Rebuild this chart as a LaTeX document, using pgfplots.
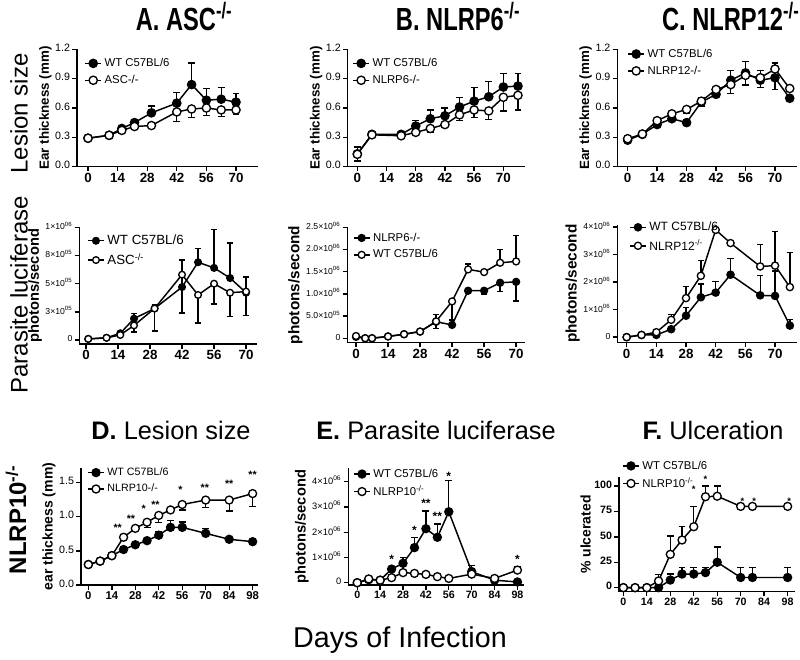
\documentclass[border=0pt]{standalone}
\usepackage{fontspec}
\setmainfont{Liberation Sans}
\usepackage{graphicx}
\usepackage{pgfplots}
\pgfplotsset{compat=1.18}

\newcommand{\sci}[2]{#1×10\textsuperscript{#2}}
\newcommand{\ko}{\textsuperscript{-/-}}

\pgfplotsset{
  gp/.style={
    scale only axis, clip=false,
    axis x line*=bottom, axis y line*=left,
    axis line style={line width=1.1pt},
    tick align=outside, major tick length=3.5pt,
    every tick/.style={black, line width=1pt},
    xtick={0,14,28,42,56,70},
    typeset ticklabels with strut,
    xticklabel style={font=\bfseries\fontsize{10}{10}\selectfont, inner sep=1pt},
    yticklabel style={font=\fontsize{8}{8}\selectfont, inner sep=1.5pt},
    /pgf/number format/assume math mode=true,
    legend cell align=left,
    legend style={draw=none, fill=none, anchor=north west, inner sep=0pt,
      row sep=1pt, font=\fontsize{8.5}{9}\selectfont},
    legend image code/.code={\draw[mark repeat=2,mark phase=2,##1] plot coordinates {(0pt,0pt) (6pt,0pt) (12pt,0pt)};},
    ylabel style={font=\bfseries\fontsize{10}{10}\selectfont, inner sep=1pt},
    every axis plot/.append style={line width=1.1pt},
    error bars/y dir=both, error bars/y explicit,
    error bars/error bar style={line width=1pt, black},
    error bars/error mark options={rotate=90, line width=1pt, black, mark size=2.6pt},
  },
  wt/.style={black, mark=*, mark size=#1, mark options={fill=black, line width=1pt}},
  wt/.default=3.1pt,
  ko/.style={black, mark=*, mark size=#1, mark options={fill=white, line width=1pt}},
  ko/.default=3.1pt,
  /pgfplots/table/tab/.style={x=d, y=v, y error plus=p, y error minus=m, row sep=\\},
}

\begin{document}
\begin{tikzpicture}
\path[use as bounding box] (0,0) rectangle (600pt,495pt);

% ---------- titles and row labels
\node[anchor=base] at (138pt,471.75pt) {\scalebox{0.74}[1]{\fontsize{24}{24}\selectfont\bfseries A. ASC\ko}};
\node[anchor=base] at (343.5pt,471.75pt) {\scalebox{0.74}[1]{\fontsize{24}{24}\selectfont\bfseries B. NLRP6\ko}};
\node[anchor=base] at (548pt,471.75pt) {\scalebox{0.74}[1]{\fontsize{24}{24}\selectfont\bfseries C. NLRP12\ko}};
\node[rotate=90, font=\fontsize{18}{18}\selectfont] at (14.25pt,410pt) {Lesion size};
\node[rotate=90, font=\fontsize{18}{18}\selectfont] at (14.25pt,274pt) {Parasite luciferase};
\node[rotate=90, font=\bfseries\fontsize{18}{18}\selectfont] at (12pt,105pt) {NLRP10\ko};
\node[anchor=base, font=\fontsize{19}{19}\selectfont] at (128.25pt,165pt) {\textbf{D.} Lesion size};
\node[anchor=base, font=\fontsize{19}{19}\selectfont] at (327pt,165pt) {\textbf{E.} Parasite luciferase};
\node[anchor=base, font=\fontsize{19}{19}\selectfont] at (534.75pt,165pt) {\textbf{F.} Ulceration};
\node[font=\fontsize{21.5}{22}\selectfont] at (300pt,15pt) {Days of Infection};

% ---------- A top: ASC lesion
\begin{axis}[gp, at={(57.75pt,370.125pt)}, anchor=south west,
  width=135.75pt, height=87.75pt,
  xmin=-5.2, xmax=80.4, ymin=0, ymax=1.2,
  ytick={0,0.3,0.6,0.9,1.2}, yticklabels={0.0,0.3,0.6,0.9,1.2},
  ylabel={Ear thickness (mm)},
  legend style={at={(0.04,0.95)}}]
\addplot[wt] table[tab]{d v p m\\ 0 0.29 0 0\\ 10 0.32 0 0\\ 16 0.39 0.02 0\\ 22 0.45 0.02 0\\ 30 0.55 0.07 0\\ 42 0.65 0.11 0\\ 49 0.84 0.22 0\\ 56 0.68 0.12 0\\ 63 0.69 0.12 0\\ 70 0.66 0.09 0\\};
\addlegendentry{WT C57BL/6}
\addplot[ko] table[tab]{d v p m\\ 0 0.29 0 0\\ 10 0.32 0 0\\ 16 0.37 0 0.02\\ 22 0.41 0 0.02\\ 30 0.42 0 0.02\\ 42 0.56 0 0.10\\ 49 0.59 0 0.09\\ 56 0.60 0 0.08\\ 63 0.58 0 0.07\\ 70 0.58 0 0.05\\};
\addlegendentry{ASC-/-}
\end{axis}

% ---------- B top: NLRP6 lesion
\begin{axis}[gp, at={(260.8pt,370.125pt)}, anchor=south west,
  width=133pt, height=87.75pt,
  xmin=-4.6, xmax=80.4, ymin=0, ymax=1.2,
  ytick={0,0.3,0.6,0.9,1.2}, yticklabels={0.0,0.3,0.6,0.9,1.2},
  ylabel={Ear thickness (mm)},
  legend style={at={(0.025,0.95)}}]
\addplot[wt] table[tab]{d v p m\\ 0 0.13 0.07 0\\ 7 0.33 0 0\\ 21 0.33 0.02 0\\ 28 0.415 0.06 0\\ 35 0.49 0.09 0\\ 42 0.52 0.08 0\\ 49 0.61 0.10 0\\ 56 0.67 0.14 0\\ 63 0.715 0.16 0\\ 70 0.815 0.14 0\\ 77 0.825 0.13 0\\};
\addlegendentry{WT C57BL/6}
\addplot[ko] table[tab]{d v p m\\ 0 0.125 0 0.07\\ 7 0.325 0 0\\ 21 0.315 0 0.01\\ 28 0.35 0 0.02\\ 35 0.39 0 0.04\\ 42 0.43 0 0.03\\ 49 0.53 0 0.06\\ 56 0.58 0 0.08\\ 63 0.57 0 0.09\\ 70 0.71 0 0.14\\ 77 0.73 0 0.15\\};
\addlegendentry{NLRP6-/-}
\end{axis}

% ---------- C top: NLRP12 lesion
\begin{axis}[gp, at={(463pt,370.125pt)}, anchor=south west,
  width=134.5pt, height=87.75pt,
  xmin=-4.9, xmax=80.3, ymin=0, ymax=1.2,
  ytick={0,0.3,0.6,0.9,1.2}, yticklabels={0.0,0.3,0.6,0.9,1.2},
  ylabel={Ear thickness (mm)},
  legend style={at={(0.055,1.03)}}]
\addplot[wt] table[tab]{d v p m\\ 0 0.27 0 0\\ 7 0.33 0 0\\ 14 0.43 0 0\\ 21 0.49 0 0\\ 28 0.45 0 0\\ 35 0.66 0.05 0\\ 42 0.74 0.07 0\\ 49 0.885 0.10 0\\ 56 0.96 0.12 0\\ 63 0.885 0.10 0\\ 70 0.91 0 0.12\\ 77 0.70 0 0\\};
\addlegendentry{WT C57BL/6}
\addplot[ko] table[tab]{d v p m\\ 0 0.285 0 0\\ 7 0.333 0 0\\ 14 0.47 0 0\\ 21 0.54 0 0\\ 28 0.585 0 0.04\\ 35 0.67 0 0.05\\ 42 0.79 0 0\\ 49 0.84 0 0.09\\ 56 0.935 0 0.10\\ 63 0.91 0 0.10\\ 70 1.0 0.06 0\\ 77 0.80 0 0\\};
\addlegendentry{NLRP12-/-}
\end{axis}

% ---------- A middle: ASC luciferase (units of 1e5)
\begin{axis}[gp, at={(59.5pt,237pt)}, anchor=south west,
  width=133.3pt, height=87.5pt,
  xmin=-2.9, xmax=74.8, ymin=-0.35, ymax=10,
  ytick={0,2.5,5,7.5,10},
  yticklabels={0,\sci{3}{05},\sci{5}{05},\sci{8}{05},\sci{1}{06}},
  yticklabel style={font=\fontsize{6.5}{7}\selectfont},
  ylabel={photons/second}, ylabel style={font=\bfseries\fontsize{11}{11}\selectfont},
  error bars/error mark options={rotate=90, line width=1pt, black, mark size=2.2pt},
  legend style={at={(0.043,0.96)}, font=\fontsize{10}{10}\selectfont}]
\addplot[wt=2.5pt] table[tab]{d v p m\\ 1 0.1 0 0\\ 9 0.2 0 0\\ 15 0.6 0.1 0\\ 21 1.9 0.45 0\\ 30 2.8 0.3 0\\ 42 4.7 2.4 0\\ 49 6.9 1.25 0\\ 56 6.4 3.4 0\\ 63 5.5 3.1 0\\ 70 4.2 1.4 0\\};
\addlegendentry{WT C57BL/6}
\addplot[ko=2.5pt] table[tab]{d v p m\\ 1 0.1 0 0\\ 9 0.2 0 0\\ 15 0.45 0 0.1\\ 21 1.3 0 0.6\\ 30 2.8 0 2.0\\ 42 5.8 0 3.4\\ 49 4.0 0 2.5\\ 56 5.0 0 1.8\\ 63 4.2 0 2.1\\ 70 4.3 0 2.1\\};
\addlegendentry{ASC\ko}
\end{axis}

% ---------- B middle: NLRP6 luciferase (units of 1e6)
\begin{axis}[gp, at={(260.5pt,238pt)}, anchor=south west,
  width=133.3pt, height=86.55pt,
  xmin=-3.8, xmax=73.9, ymin=-0.1, ymax=2.5,
  ytick={0,0.5,1,1.5,2,2.5},
  yticklabels={0,\sci{5.0}{05},\sci{1.0}{06},\sci{1.5}{06},\sci{2.0}{06},\sci{2.5}{06}},
  yticklabel style={font=\fontsize{6.5}{7}\selectfont},
  ylabel={photons/second}, ylabel style={font=\bfseries\fontsize{11.5}{12}\selectfont},
  error bars/error mark options={rotate=90, line width=1pt, black, mark size=2.2pt},
  legend style={at={(0.03,0.977)}}]
\addplot[wt=2.6pt] table[tab]{d v p m\\ 0 0.03 0 0\\ 4 0 0 0\\ 7 0 0 0\\ 14 0.04 0 0\\ 21 0.09 0 0\\ 28 0.15 0 0\\ 35 0.37 0 0.15\\ 42 0.30 0.12 0\\ 49 1.07 0 0\\ 56 1.07 0 0.09\\ 63 1.25 0 0.2\\ 70 1.27 0 0.43\\};
\addlegendentry{NLRP6-/-}
\addplot[ko=2.6pt] table[tab]{d v p m\\ 0 0.05 0 0\\ 4 0 0 0\\ 7 0 0 0\\ 14 0.04 0 0\\ 21 0.09 0 0\\ 28 0.15 0 0\\ 35 0.38 0.16 0\\ 42 0.83 0 0.42\\ 49 1.55 0.12 0\\ 56 1.49 0 0\\ 63 1.70 0.30 0\\ 70 1.73 0.58 0\\};
\addlegendentry{WT C57BL/6}
\end{axis}

% ---------- C middle: NLRP12 luciferase (units of 1e6)
\begin{axis}[gp, at={(463pt,238pt)}, anchor=south west,
  width=134.5pt, height=88.3pt,
  xmin=-4.4, xmax=80.2, ymin=-0.2, ymax=4.08,
  ytick={0,1,2,3,4},
  yticklabels={0,\sci{1}{06},\sci{2}{06},\sci{3}{06},\sci{4}{06}},
  yticklabel style={font=\fontsize{6.5}{7}\selectfont},
  ylabel={photons/second}, ylabel style={font=\bfseries\fontsize{11.5}{12}\selectfont},
  error bars/error mark options={rotate=90, line width=1pt, black, mark size=2.4pt},
  legend style={at={(0.065,1.05)}, font=\fontsize{9}{9}\selectfont}]
\addplot[wt=2.7pt] table[tab]{d v p m\\ 0 0 0 0\\ 7 0.08 0 0\\ 14 0.08 0 0\\ 21 0.29 0 0\\ 28 0.78 0.31 0\\ 35 1.45 0.48 0\\ 42 1.62 0.40 0\\ 49 2.27 0.58 0\\ 63 1.52 0.72 0\\ 70 1.50 0.9 0\\ 77 0.42 0.23 0\\};
\addlegendentry{WT C57BL/6}
\addplot[ko=2.7pt] table[tab]{d v p m\\ 0 0 0 0\\ 7 0.08 0 0\\ 14 0.18 0 0\\ 21 0.63 0.2 0\\ 28 1.42 0.42 0\\ 35 2.23 0.56 0\\ 42 3.90 0 0\\ 49 3.42 0 0\\ 63 2.57 0.79 0\\ 70 2.60 1.24 0\\ 77 1.82 1.26 0\\};
\addlegendentry{NLRP12\ko}
\end{axis}

% ---------- D: NLRP10 lesion
\begin{axis}[gp, at={(60.75pt,56.25pt)}, anchor=south west,
  width=133pt, height=87.5pt,
  xmin=-4.4, xmax=101.4, ymin=0, ymax=1.71,
  xtick={0,14,28,42,56,70,84,98},
  xticklabel style={font=\bfseries\fontsize{8.5}{9}\selectfont},
  ytick={0,0.5,1,1.5}, yticklabels={0.0,0.5,1.0,1.5},
  yticklabel style={font=\fontsize{8}{8}\selectfont},
  ylabel={ear thickness (mm)}, ylabel style={font=\bfseries\fontsize{10.5}{11}\selectfont},
  legend style={at={(0.034,1.03)}, font=\fontsize{8}{8}\selectfont}]
\addplot[wt=3pt] table[tab]{d v p m\\ 0 0.30 0 0\\ 7 0.35 0 0\\ 14 0.43 0 0\\ 21 0.52 0 0\\ 28 0.59 0 0\\ 35 0.65 0 0\\ 42 0.73 0.05 0\\ 49 0.845 0.10 0\\ 56 0.845 0.08 0\\ 70 0.757 0.07 0\\ 84 0.67 0 0\\ 98 0.635 0 0\\};
\addlegendentry{WT C57BL/6}
\addplot[ko=3pt] table[tab]{d v p m\\ 0 0.30 0 0\\ 7 0.35 0 0\\ 14 0.43 0 0\\ 21 0.70 0 0\\ 28 0.83 0 0\\ 35 0.92 0 0.08\\ 42 1.02 0 0.10\\ 49 1.10 0 0\\ 56 1.18 0 0.08\\ 70 1.245 0 0.11\\ 84 1.245 0 0.16\\ 98 1.34 0 0.19\\};
\addlegendentry{NLRP10-/-}
\begin{scope}[font=\bfseries\fontsize{8}{8}\selectfont]
\node at (axis cs:17.5,0.84) {**};
\node at (axis cs:25.4,0.97) {**};
\node at (axis cs:33,1.11) {*};
\node at (axis cs:40,1.17) {**};
\node at (axis cs:55,1.40) {*};
\node at (axis cs:69.5,1.43) {**};
\node at (axis cs:84,1.48) {**};
\node at (axis cs:98,1.61) {**};
\end{scope}
\end{axis}

% ---------- E: NLRP10 luciferase (units of 1e6)
\begin{axis}[gp, at={(261.2pt,56.25pt)}, anchor=south west,
  width=131.8pt, height=87.5pt,
  xmin=-5.5, xmax=102, ymin=-0.09, ymax=4.53,
  xtick={0,14,28,42,56,70,84,98},
  xticklabel style={font=\bfseries\fontsize{8}{8}\selectfont},
  ytick={0,1,2,3,4},
  yticklabels={0,\sci{1}{06},\sci{2}{06},\sci{3}{06},\sci{4}{06}},
  yticklabel style={font=\fontsize{7}{7}\selectfont},
  ylabel={photons/second}, ylabel style={font=\bfseries\fontsize{11}{11}\selectfont},
  legend style={at={(0.027,1.02)}}]
\addplot[wt=3pt] table[tab]{d v p m\\ 0 0 0 0\\ 7 0.12 0 0\\ 14 0.10 0 0\\ 21 0.54 0 0\\ 28 0.77 0.22 0\\ 35 1.39 0.39 0\\ 42 2.14 0.70 0\\ 49 1.80 0.52 0\\ 56 2.81 1.23 0\\ 70 0.44 0.23 0\\ 84 0.10 0 0\\ 98 0.03 0 0\\};
\addlegendentry{WT C57BL/6}
\addplot[ko=3pt] table[tab]{d v p m\\ 0 0 0 0\\ 7 0.15 0 0\\ 14 0.10 0 0\\ 21 0.20 0 0\\ 28 0.40 0 0\\ 35 0.37 0 0\\ 42 0.33 0 0\\ 49 0.24 0 0\\ 56 0.17 0 0\\ 70 0.34 0 0\\ 84 0.17 0 0\\ 98 0.50 0.12 0\\};
\addlegendentry{NLRP10\ko}
\begin{scope}[font=\bfseries\fontsize{9}{9}\selectfont]
\node at (axis cs:21,0.93) {*};
\node at (axis cs:35,2.08) {*};
\node at (axis cs:42,3.14) {**};
\node at (axis cs:49,2.61) {**};
\node at (axis cs:56,4.22) {*};
\node at (axis cs:98,0.92) {*};
\end{scope}
\end{axis}

% ---------- F: NLRP10 ulceration
\begin{axis}[gp, at={(464.25pt,51.2pt)}, anchor=south west,
  width=132pt, height=85.8pt,
  xmin=-2.6, xmax=102.4, ymin=-4, ymax=108.6,
  xtick={0,14,28,42,56,70,84,98},
  xticklabel style={font=\bfseries\fontsize{8}{8}\selectfont},
  ytick={0,25,50,75,100},
  yticklabel style={font=\bfseries\fontsize{8}{8}\selectfont},
  ylabel={\% ulcerated}, ylabel style={font=\bfseries\fontsize{10.5}{11}\selectfont},
  legend style={at={(0.017,1.17)}}]
\addplot[wt=3pt] table[tab]{d v p m\\ 0 0 0 0\\ 7 0 0 0\\ 14 0 0 0\\ 21 0 0 0\\ 28 7.5 5.9 0\\ 35 13.4 6.3 0\\ 42 13.4 6.6 0\\ 49 14.8 5.2 0\\ 56 25 15 0\\ 70 10 10 0\\ 77 10 10 0\\ 98 10 10 0\\};
\addlegendentry{WT C57BL/6}
\addplot[ko=3pt] table[tab]{d v p m\\ 0 0 0 0\\ 7 0 0 0\\ 14 0 0 0\\ 21 6.6 6.4 0\\ 28 32.8 18 0\\ 35 46.9 13 0\\ 42 60 19.7 0\\ 49 89.5 10.5 0\\ 56 90 10 0\\ 70 80 0 0\\ 77 80 0 0\\ 98 80 0 0\\};
\addlegendentry{NLRP10\ko}
\begin{scope}[font=\bfseries\fontsize{7}{7}\selectfont]
\node at (axis cs:42,96.7) {*};
\node at (axis cs:49,107) {*};
\node at (axis cs:71,85) {*};
\node at (axis cs:78,85) {*};
\node at (axis cs:99,85) {*};
\end{scope}
\end{axis}
\end{tikzpicture}
\end{document}
